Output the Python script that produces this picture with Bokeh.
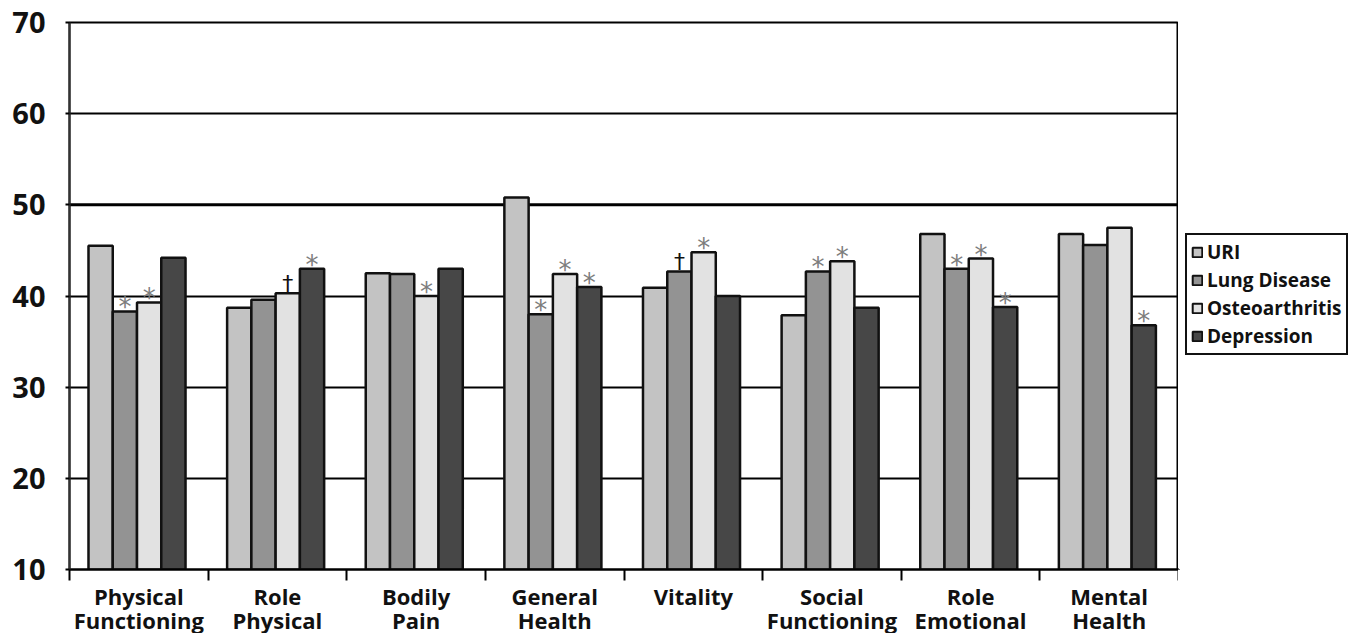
import numpy as np
from bokeh.plotting import figure
from bokeh.layouts import row
from bokeh.models import ColumnDataSource, FixedTicker, Legend, LegendItem, Span, Range1d
from bokeh.core.properties import value
from bokeh.embed import file_html
from bokeh.resources import INLINE

categories = ["Physical\nFunctioning", "Role\nPhysical", "Bodily\nPain", "General\nHealth",
              "Vitality", "Social\nFunctioning", "Role\nEmotional", "Mental\nHealth"]
series = ["URI", "Lung Disease", "Osteoarthritis", "Depression"]
uri = [45.5, 38.7, 42.5, 50.8, 40.9, 37.9, 46.8, 46.8]
lung = [38.3, 39.6, 42.4, 38.0, 42.7, 42.7, 43.0, 45.6]
osteo = [39.3, 40.3, 40.0, 42.4, 44.8, 43.8, 44.1, 47.5]
depression = [44.2, 43.0, 43.0, 41.0, 40.0, 38.7, 38.8, 36.8]
mark_uri = ["", "", "", "", "", "", "", ""]
mark_lung = ["*", "", "", "*", "†", "*", "*", ""]
mark_osteo = ["*", "†", "*", "*", "*", "*", "*", ""]
mark_depression = ["", "*", "", "*", "", "", "*", "*"]
y_ticks = [10, 20, 30, 40, 50, 60, 70]

all_values = [uri, lung, osteo, depression]
all_marks = [mark_uri, mark_lung, mark_osteo, mark_depression]
colors = ["#c3c3c3", "#939393", "#e2e2e2", "#474747"]

p = figure(frame_width=1109, frame_height=547, output_backend="svg", toolbar_location=None,
           x_range=Range1d(0, 8), y_range=Range1d(10, 70),
           min_border_left=69, min_border_right=0, min_border_top=22, min_border_bottom=40)
p.background_fill_color = "white"
p.border_fill_color = "white"
p.outline_line_color = "black"
p.outline_line_width = 2

p.xgrid.visible = False
p.ygrid.ticker = FixedTicker(ticks=[20, 30, 40, 60, 70])
p.ygrid.grid_line_color = "black"
p.ygrid.grid_line_width = 2
p.add_layout(Span(location=50, dimension="width", line_color="black", line_width=3, level="underlay"))

offsets = [-0.2625, -0.0875, 0.0875, 0.2625]
idx = np.arange(len(categories))
width = 0.175
for j, (name, vals, marks, col) in enumerate(zip(series, all_values, all_marks, colors)):
    xs = idx + 0.487 + offsets[j]
    src = ColumnDataSource(dict(x=xs, top=vals, mark=marks))
    p.vbar(x="x", top="top", bottom=10, width=width, source=src,
           fill_color=col, line_color="#111111", line_width=2.5)
    ast = [k for k, m in enumerate(marks) if m == "*"]
    dag = [k for k, m in enumerate(marks) if m == "†"]
    if ast:
        s2 = ColumnDataSource(dict(x=[xs[k] for k in ast], y=[vals[k] for k in ast], t=["*"] * len(ast)))
        p.text(x="x", y="y", text="t", source=s2, text_align="center", text_baseline="alphabetic",
               text_font=value("DejaVu Sans"), text_font_size="26px", text_color="#7d7d7d", y_offset=-4)
    if dag:
        s3 = ColumnDataSource(dict(x=[xs[k] for k in dag], y=[vals[k] for k in dag], t=["†"] * len(dag)))
        p.text(x="x", y="y", text="t", source=s3, text_align="center", text_baseline="alphabetic",
               text_font=value("DejaVu Sans"), text_font_size="22px", text_color="#111111", y_offset=-10)

# y axis
ya = p.yaxis[0]
ya.ticker = FixedTicker(ticks=y_ticks)
ya.major_label_text_font = "Open Sans"
ya.major_label_text_font_style = "bold"
ya.major_label_text_font_size = "29px"
ya.major_label_text_color = "#111111"
ya.axis_line_color = "#333333"
ya.axis_line_width = 2
ya.major_tick_out = 4
ya.major_tick_in = 0
ya.major_tick_line_color = "black"
ya.major_tick_line_width = 2
ya.minor_tick_line_color = None
ya.major_label_standoff = 20

# x axis
xa = p.xaxis[0]
centers = [float(i) + 0.5 for i in range(len(categories))]
xa.ticker = FixedTicker(ticks=centers, minor_ticks=list(range(len(categories) + 1)))
xa.major_label_overrides = {c: lab for c, lab in zip(centers, categories)}
xa.major_label_text_font = "Open Sans"
xa.major_label_text_font_style = "bold"
xa.major_label_text_font_size = "22px"
xa.major_label_text_color = "#111111"
xa.major_label_text_line_height = 0.82
xa.axis_line_color = "black"
xa.axis_line_width = 2
xa.major_tick_out = 0
xa.major_tick_in = 0
xa.minor_tick_out = 11
xa.minor_tick_in = 0
xa.minor_tick_line_color = "black"
xa.minor_tick_line_width = 2
xa.major_label_standoff = 0

# legend in a separate narrow figure to the right
q = figure(frame_width=182, frame_height=547, output_backend="svg", toolbar_location=None,
           x_range=Range1d(0, 1), y_range=Range1d(0, 1),
           min_border_left=0, min_border_right=0, min_border_top=22, min_border_bottom=64)
q.axis.visible = False
q.grid.visible = False
q.outline_line_color = None
q.background_fill_color = "white"
q.border_fill_color = "white"
items = []
for name, col in zip(series, colors):
    # legend proxy, lies outside the visible range
    r = q.vbar(x=[-5], top=[-5], bottom=[-6], width=0.1, fill_color=col, line_color="#111111", line_width=2)
    items.append(LegendItem(label=name, renderers=[r]))

legend = Legend(items=items, location=(7, 214))
legend.label_text_font = "Open Sans"
legend.label_text_font_style = "bold"
legend.label_text_font_size = "19px"
legend.label_text_color = "#111111"
legend.glyph_width = 12
legend.glyph_height = 12
legend.label_height = 18
legend.label_standoff = 4
legend.spacing = 2
legend.padding = 4
legend.margin = 0
legend.border_line_color = "#111111"
legend.border_line_alpha = 1.0
legend.border_line_width = 2
legend.background_fill_color = "white"
q.add_layout(legend, "center")

layout = row(p, q, spacing=0)
open("out.html", "w").write(file_html(layout, INLINE))
